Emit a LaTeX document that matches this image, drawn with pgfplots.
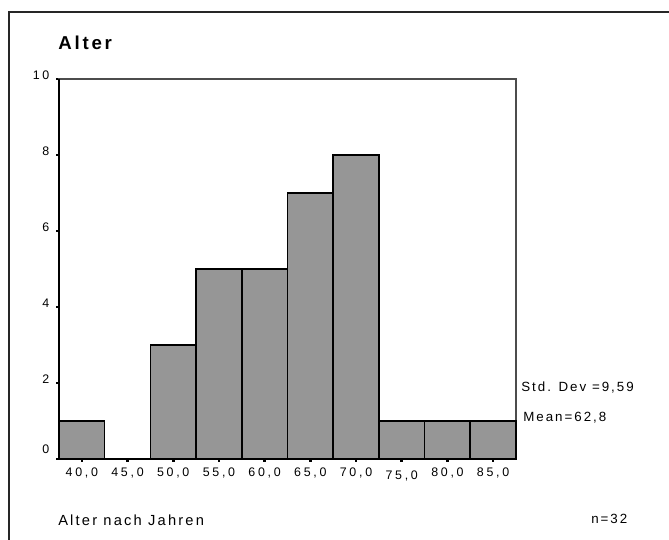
\documentclass[border=0pt]{standalone}
\usepackage{fontspec}
\setmainfont{Liberation Sans}[LetterSpace=15]
\newfontfamily\tickfont{Liberation Sans}[LetterSpace=22]
\usepackage{pgfplots}
\pgfplotsset{compat=1.18}
\definecolor{bargray}{RGB}{150,150,150}
\begin{document}
\begin{tikzpicture}[x=1pt,y=1pt]
\useasboundingbox (0,0) rectangle (501.75,405);
\draw[line width=1.1pt, black!85] (6.75,0) -- (6.75,396) -- (501.75,396);
\begin{axis}[
  at={(44.25pt,60.75pt)}, anchor=south west,
  scale only axis, width=342.75pt, height=285pt,
  xmin=37.5, xmax=87.5, ymin=0, ymax=10,
  clip=false,
  xtick={40,45,50,55,60,65,70,75,80,85},
  xticklabels={{40,0},{45,0},{50,0},{55,0},{60,0},{65,0},{70,0},{\raisebox{-2pt}[\height][\depth]{75,0}},{80,0},{85,0}},
  ytick={0,2,4,6,8,10},
  yticklabels={{\raisebox{5pt}[\height][\depth]{0}},2,4,6,8,10},
  tick pos=left, tick align=outside,
  major tick length=2.2pt,
  tick style={black, line width=2pt},
  ticklabel style={font=\tickfont\fontsize{9.3}{11}\selectfont},
  xticklabel style={yshift=-1pt},
  yticklabel style={yshift=2.5pt, xshift=-1.5pt},
  axis line style={draw=black!70, line width=1pt},
  ybar, bar width=5, bar shift=0pt,
]
\addplot[fill=bargray, draw=black, line width=1.2pt] coordinates {
  (40,1) (45,0) (50,3) (55,5) (60,5) (65,7) (70,8) (75,1) (80,1) (85,1)
};
\draw[black, line width=1.4pt] (rel axis cs:0,1) -- (rel axis cs:0,0) -- (rel axis cs:1,0);
\end{axis}
\node[anchor=west, inner sep=0, font=\bfseries\fontsize{14}{16}\selectfont] at (43.5,372.75) {Alter};
\node[anchor=west, inner sep=0, font=\fontsize{11}{13}\selectfont] at (43.5,15) {Alter nach Jahren};
\node[anchor=west, inner sep=0, font=\fontsize{10}{12}\selectfont] at (443.25,15.75) {n=32};
\node[anchor=west, inner sep=0, font=\fontsize{10}{12}\selectfont] at (390.75,114) {Std. Dev =9,59};
\node[anchor=west, inner sep=0, font=\fontsize{10}{12}\selectfont] at (392.25,91.5) {Mean=62,8};
\end{tikzpicture}
\end{document}
